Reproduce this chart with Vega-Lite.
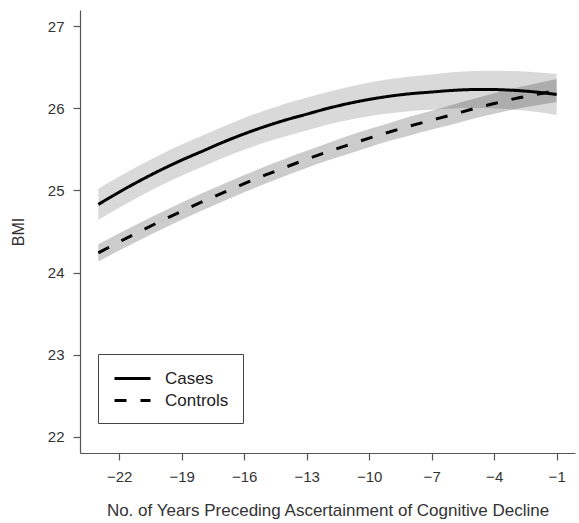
{
  "$schema": "https://vega.github.io/schema/vega-lite/v6.json",
  "width": 495,
  "height": 443,
  "autosize": {"type": "none"},
  "padding": {"left": 80, "top": 10, "right": 4, "bottom": 70},
  "background": "white",
  "config": {"view": {"stroke": null}, "font": "Liberation Sans"},
  "data": {"values": [
    {"group": "Cases", "year": -23, "bmi": 24.83, "lo": 24.64, "hi": 25.02},
    {"group": "Cases", "year": -22, "bmi": 24.98, "lo": 24.79, "hi": 25.17},
    {"group": "Cases", "year": -21, "bmi": 25.12, "lo": 24.93, "hi": 25.31},
    {"group": "Cases", "year": -20, "bmi": 25.25, "lo": 25.06, "hi": 25.44},
    {"group": "Cases", "year": -19, "bmi": 25.37, "lo": 25.18, "hi": 25.56},
    {"group": "Cases", "year": -18, "bmi": 25.48, "lo": 25.29, "hi": 25.67},
    {"group": "Cases", "year": -17, "bmi": 25.59, "lo": 25.40, "hi": 25.78},
    {"group": "Cases", "year": -16, "bmi": 25.69, "lo": 25.495, "hi": 25.885},
    {"group": "Cases", "year": -15, "bmi": 25.78, "lo": 25.585, "hi": 25.975},
    {"group": "Cases", "year": -14, "bmi": 25.86, "lo": 25.66, "hi": 26.06},
    {"group": "Cases", "year": -13, "bmi": 25.93, "lo": 25.73, "hi": 26.13},
    {"group": "Cases", "year": -12, "bmi": 26.00, "lo": 25.80, "hi": 26.20},
    {"group": "Cases", "year": -11, "bmi": 26.06, "lo": 25.86, "hi": 26.26},
    {"group": "Cases", "year": -10, "bmi": 26.11, "lo": 25.905, "hi": 26.315},
    {"group": "Cases", "year": -9, "bmi": 26.15, "lo": 25.94, "hi": 26.36},
    {"group": "Cases", "year": -8, "bmi": 26.18, "lo": 25.97, "hi": 26.39},
    {"group": "Cases", "year": -7, "bmi": 26.20, "lo": 25.985, "hi": 26.415},
    {"group": "Cases", "year": -6, "bmi": 26.22, "lo": 26.00, "hi": 26.44},
    {"group": "Cases", "year": -5, "bmi": 26.23, "lo": 26.005, "hi": 26.455},
    {"group": "Cases", "year": -4, "bmi": 26.23, "lo": 26.00, "hi": 26.46},
    {"group": "Cases", "year": -3, "bmi": 26.22, "lo": 25.985, "hi": 26.455},
    {"group": "Cases", "year": -2, "bmi": 26.20, "lo": 25.96, "hi": 26.44},
    {"group": "Cases", "year": -1, "bmi": 26.17, "lo": 25.92, "hi": 26.42},
    {"group": "Controls", "year": -23, "bmi": 24.24, "lo": 24.135, "hi": 24.345},
    {"group": "Controls", "year": -22, "bmi": 24.373, "lo": 24.268, "hi": 24.478},
    {"group": "Controls", "year": -21, "bmi": 24.502, "lo": 24.397, "hi": 24.607},
    {"group": "Controls", "year": -20, "bmi": 24.627, "lo": 24.522, "hi": 24.732},
    {"group": "Controls", "year": -19, "bmi": 24.747, "lo": 24.642, "hi": 24.852},
    {"group": "Controls", "year": -18, "bmi": 24.864, "lo": 24.759, "hi": 24.969},
    {"group": "Controls", "year": -17, "bmi": 24.975, "lo": 24.87, "hi": 25.08},
    {"group": "Controls", "year": -16, "bmi": 25.083, "lo": 24.978, "hi": 25.188},
    {"group": "Controls", "year": -15, "bmi": 25.186, "lo": 25.081, "hi": 25.291},
    {"group": "Controls", "year": -14, "bmi": 25.285, "lo": 25.18, "hi": 25.39},
    {"group": "Controls", "year": -13, "bmi": 25.38, "lo": 25.275, "hi": 25.485},
    {"group": "Controls", "year": -12, "bmi": 25.47, "lo": 25.365, "hi": 25.575},
    {"group": "Controls", "year": -11, "bmi": 25.556, "lo": 25.446, "hi": 25.666},
    {"group": "Controls", "year": -10, "bmi": 25.638, "lo": 25.528, "hi": 25.748},
    {"group": "Controls", "year": -9, "bmi": 25.715, "lo": 25.605, "hi": 25.825},
    {"group": "Controls", "year": -8, "bmi": 25.789, "lo": 25.674, "hi": 25.904},
    {"group": "Controls", "year": -7, "bmi": 25.857, "lo": 25.742, "hi": 25.972},
    {"group": "Controls", "year": -6, "bmi": 25.925, "lo": 25.805, "hi": 26.045},
    {"group": "Controls", "year": -5, "bmi": 25.995, "lo": 25.875, "hi": 26.115},
    {"group": "Controls", "year": -4, "bmi": 26.06, "lo": 25.935, "hi": 26.185},
    {"group": "Controls", "year": -3, "bmi": 26.12, "lo": 25.99, "hi": 26.25},
    {"group": "Controls", "year": -2, "bmi": 26.17, "lo": 26.035, "hi": 26.305},
    {"group": "Controls", "year": -1, "bmi": 26.22, "lo": 26.08, "hi": 26.36}
  ]},
  "encoding": {
    "x": {
      "field": "year", "type": "quantitative",
      "scale": {"domain": [-23.88, -0.12], "nice": false, "zero": false},
      "axis": {
        "values": [-22, -19, -16, -13, -10, -7, -4, -1],
        "grid": false, "tickSize": 7, "tickColor": "#555", "domainColor": "#555",
        "tickWidth": 1.2, "domainWidth": 1.2,
        "labelFontSize": 15, "labelColor": "#333", "labelPadding": 9, "labelFlush": false,
        "title": "No. of Years Preceding Ascertainment of Cognitive Decline",
        "titleFontSize": 17, "titleFontWeight": "normal", "titleColor": "#333",
        "titleY": 57, "titleBaseline": "middle"
      }
    },
    "y": {
      "field": "lo", "type": "quantitative",
      "scale": {"domain": [21.8, 27.2], "nice": false, "zero": false},
      "axis": {
        "values": [22, 23, 24, 25, 26, 27],
        "grid": false, "tickSize": 7, "tickColor": "#555", "domainColor": "#555",
        "tickWidth": 1.2, "domainWidth": 1.2,
        "labelFontSize": 15, "labelColor": "#333", "labelPadding": 9, "labelFlush": false,
        "title": "BMI",
        "titleFontSize": 16, "titleFontWeight": "normal", "titleColor": "#333",
        "titleAngle": -90, "titleX": -62, "titleY": 221.5, "titleBaseline": "middle", "titleAlign": "center"
      }
    }
  },
  "layer": [
    {
      "mark": {"type": "area", "fill": "black", "interpolate": "monotone"},
      "encoding": {
        "y2": {"field": "hi"},
        "fillOpacity": {"condition": {"test": "datum.group === 'Cases'", "value": 0.15}, "value": 0.2},
        "detail": {"field": "group"}
      }
    },
    {
      "mark": {"type": "line", "color": "black", "strokeWidth": 3, "interpolate": "monotone"},
      "encoding": {
        "y": {"field": "bmi", "type": "quantitative"},
        "strokeDash": {
          "field": "group", "type": "nominal",
          "scale": {"domain": ["Cases", "Controls"], "range": [[1, 0], [12, 14]]},
          "legend": {
            "orient": "none", "legendX": 18, "legendY": 344,
            "title": null, "strokeColor": "#444", "padding": 14,
            "symbolType": "M-2,0H2", "symbolSize": 324, "symbolStrokeWidth": 3,
            "symbolStrokeColor": "black", "symbolOffset": 10, "rowPadding": 3,
            "labelFontSize": 17, "labelColor": "#222", "labelOffset": 22
          }
        }
      }
    }
  ]
}
